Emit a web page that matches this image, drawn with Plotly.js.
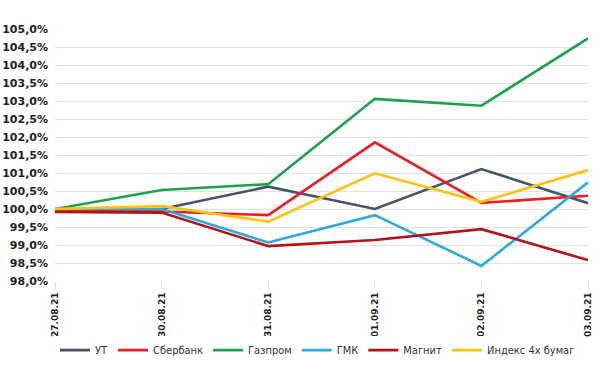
<!DOCTYPE html>
<html><head><meta charset="utf-8">
<script src="https://cdn.plot.ly/plotly-3.0.1.min.js"></script>
<style>html,body{margin:0;padding:0;background:#fff}#c{width:600px;height:367px}</style>
</head><body><div id="c"></div>
<script>
const dates = ['27.08.21','30.08.21','31.08.21','01.09.21','02.09.21','03.09.21'];
const ut      = [99.95, 100.00, 100.62, 100.00, 101.11, 100.16];
const sber    = [99.95, 99.93, 99.83, 101.85, 100.17, 100.37];
const gazprom = [100.00, 100.53, 100.69, 103.06, 102.87, 104.74];
const gmk     = [100.00, 100.00, 99.07, 99.83, 98.42, 100.74];
const magnit  = [99.92, 99.90, 98.97, 99.14, 99.44, 98.58];
const index4  = [100.00, 100.08, 99.65, 100.99, 100.20, 101.08];
const names = ['УТ','Сбербанк','Газпром','ГМК','Магнит','Индекс 4х бумаг'];
const colors = ['#44546A','#EE1C25','#1AA34A','#29AAE1','#B3121B','#FFC20E'];
const series = [ut, sber, gazprom, gmk, magnit, index4];
const traces = series.map((s,i)=>({
  x: dates, y: s, name: names[i], type:'scatter', mode:'lines',
  line:{color:colors[i], width:2.6}
}));
const layout = {
  width:600, height:367,
  margin:{l:55, r:12, t:29, b:86},
  paper_bgcolor:'#fff', plot_bgcolor:'#fff',
  separators:', ',
  font:{family:'DejaVu Sans, sans-serif', color:'#222'},
  xaxis:{type:'category', tickangle:-90, tickfont:{size:9, weight:'bold', color:'#222'},
    showgrid:false, showline:false, zeroline:false, ticks:'outside', ticklen:7, tickcolor:'#e0e0e0',
    range:[0,5], automargin:false},
  yaxis:{range:[98,105], dtick:0.5, tickformat:'.1f', ticksuffix:'%',
    tickfont:{size:11, weight:'bold', color:'#222'}, gridcolor:'#e2e2e2', gridwidth:1,
    zeroline:false, showline:false, ticklen:0, ticklabelstandoff:6, automargin:false},
  legend:{orientation:'h', x:0.0, xanchor:'left', xref:'paper', yref:'container', y:0.046, yanchor:'middle',
    font:{size:11, color:'#333', family:'Liberation Sans Narrow, DejaVu Sans Condensed, sans-serif'}, itemwidth:30, tracegroupgap:0},
  showlegend:true
};
Plotly.newPlot('c', traces, layout, {displayModeBar:false, staticPlot:true});
</script></body></html>
